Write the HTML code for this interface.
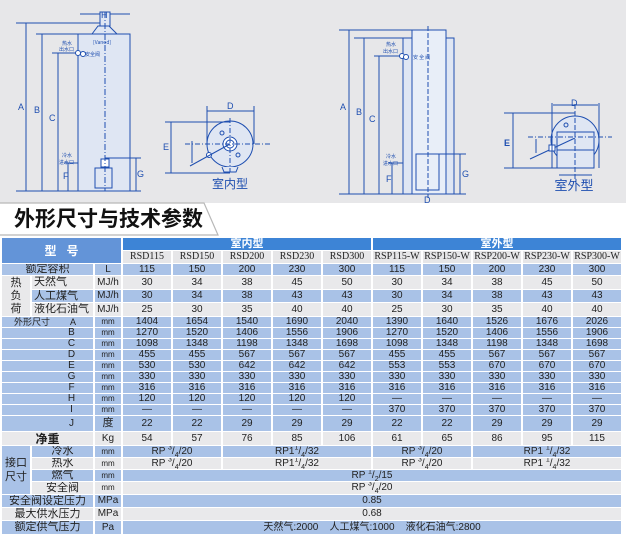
<!DOCTYPE html>
<html><head><meta charset="utf-8">
<style>
*{margin:0;padding:0;box-sizing:border-box}
body{width:626px;height:541px;background:#fff;position:relative;overflow:hidden;font-family:"Liberation Sans","Noto Sans CJK SC",sans-serif}
#top{position:absolute;left:0;top:0}
#title{position:absolute;left:14px;top:203px;font-size:21px;font-weight:bold;color:#111;letter-spacing:0px;line-height:31px;font-family:"Noto Sans CJK SC",sans-serif}
table{position:absolute;left:0;top:237px;border-collapse:separate;border-spacing:2px 1px;table-layout:fixed;font-size:10px;color:#222}
td{padding:0;text-align:center;line-height:1;white-space:nowrap;overflow:hidden}
.b{background:#a9c2e7}
.g{background:#e9e9eb}
.h{background:#6394d8;color:#fff;font-size:12px;font-weight:bold}
.hh{background:#3d84d6;color:#fff;font-weight:bold;font-size:11px}
.m{background:#e6e6e8;font-family:"Liberation Serif",serif;font-size:10px}
.cn{font-family:"Liberation Sans","Noto Sans CJK SC",sans-serif;font-size:11px}
sup,sub{font-size:7px;line-height:0}
</style></head><body>
<svg id="top" width="626" height="236" viewBox="0 0 626 236">
<rect x="0" y="0" width="626" height="203" fill="#e7e7e9"/>
<path d="M0 203 H204 L218 235 H0" fill="#fff" stroke="#b8b8b8" stroke-width="1.2"/>
<g stroke="#1f4fb0" stroke-width="1" fill="none">
<rect x="78" y="34" width="52" height="157" fill="#dfe6f3"/>
<path d="M92 34 L98 26 H109 L117 34 Z" fill="#dfe6f3"/>
<rect x="100" y="12" width="10" height="14" fill="#dfe6f3"/>
<line x1="80" y1="14" x2="100" y2="14"/><line x1="110" y1="14" x2="130" y2="14"/>
<line x1="16" y1="23" x2="100" y2="23"/>
<line x1="36" y1="34" x2="78" y2="34"/>
<line x1="52" y1="53" x2="78" y2="53"/>
<line x1="16" y1="191" x2="141" y2="191"/>
<line x1="26" y1="23" x2="26" y2="191"/>
<line x1="42" y1="34" x2="42" y2="191"/>
<line x1="58" y1="53" x2="58" y2="191"/>
<line x1="68" y1="163" x2="68" y2="191"/><line x1="64" y1="163" x2="78" y2="163"/>
<line x1="105" y1="158" x2="141" y2="158"/><line x1="136" y1="158" x2="136" y2="191"/>
<rect x="95" y="168" width="17" height="20"/>
<rect x="101" y="159" width="8" height="8" fill="#fff"/>
<line x1="105" y1="12" x2="105" y2="191" stroke-dasharray="6,2,1,2"/>
<circle cx="78" cy="53" r="2.5" fill="#fff"/><circle cx="83" cy="54" r="2.5" fill="#fff"/>
<circle cx="230" cy="144" r="23" fill="#dfe6f3"/>
<circle cx="230" cy="144" r="7" fill="#fff"/><circle cx="230" cy="144" r="4"/>
<circle cx="222" cy="133" r="2"/><circle cx="238" cy="155" r="2"/><circle cx="209" cy="155" r="2.5" fill="#fff"/>
<line x1="190" y1="166" x2="230" y2="144"/>
<path d="M222 167 L224 172 H236 L238 167" fill="#dfe6f3"/>
<line x1="185" y1="144" x2="272" y2="144" stroke-dasharray="5,2,1,2"/>
<line x1="230" y1="118" x2="230" y2="172" stroke-dasharray="5,2,1,2"/>
<line x1="207" y1="106" x2="207" y2="144"/><line x1="254" y1="106" x2="254" y2="144"/>
<line x1="207" y1="111" x2="254" y2="111"/>
<line x1="165" y1="122" x2="230" y2="122"/><line x1="165" y1="173" x2="230" y2="173"/>
<line x1="171" y1="122" x2="171" y2="173"/>
<line x1="192" y1="141" x2="192" y2="163"/>
<rect x="403" y="38" width="51" height="156" fill="#dfe6f3"/>
<rect x="412" y="30" width="34" height="164" fill="#e8eef8"/>
<rect x="416" y="154" width="23" height="36"/>
<line x1="339" y1="30" x2="446" y2="30"/>
<line x1="354" y1="38" x2="403" y2="38"/>
<line x1="374" y1="56" x2="403" y2="56"/>
<line x1="388" y1="163" x2="403" y2="163"/>
<line x1="416" y1="154" x2="466" y2="154"/>
<line x1="339" y1="194" x2="466" y2="194"/>
<line x1="349" y1="30" x2="349" y2="194"/>
<line x1="364" y1="38" x2="364" y2="194"/>
<line x1="379" y1="56" x2="379" y2="194"/>
<line x1="392" y1="163" x2="392" y2="194"/>
<line x1="460" y1="154" x2="460" y2="194"/>
<line x1="428" y1="26" x2="428" y2="198" stroke-dasharray="5,2"/>
<circle cx="402" cy="56" r="2.5" fill="#fff"/><circle cx="406" cy="57" r="2.5" fill="#fff"/>
<circle cx="575" cy="140" r="24" fill="#dfe6f3"/>
<rect x="557" y="132" width="37" height="36" fill="#dfe6f3"/>
<line x1="557" y1="150" x2="594" y2="150"/>
<circle cx="566" cy="125" r="2"/>
<line x1="530" y1="159" x2="575" y2="138"/>
<rect x="549" y="145" width="6" height="6" fill="#fff"/>
<line x1="528" y1="137" x2="612" y2="137" stroke-dasharray="5,2,1,2"/>
<line x1="575" y1="104" x2="575" y2="182" stroke-dasharray="5,2"/>
<line x1="552" y1="103" x2="552" y2="168"/><line x1="599" y1="103" x2="599" y2="168"/>
<line x1="553" y1="105" x2="598" y2="105"/>
<line x1="504" y1="113" x2="575" y2="113"/><line x1="504" y1="168" x2="594" y2="168"/>
<line x1="513" y1="113" x2="513" y2="168"/>
<line x1="559" y1="175" x2="592" y2="175"/>
<line x1="536" y1="139" x2="536" y2="153"/>
</g>
<g fill="#1f4fb0" font-size="9" font-family="Liberation Sans,sans-serif">
<text x="18" y="110">A</text><text x="34" y="113">B</text><text x="49" y="121">C</text>
<text x="63" y="179">F</text><text x="137" y="177">G</text><text x="101" y="18">H</text>
<text x="227" y="109">D</text><text x="163" y="150">E</text>
<text x="340" y="110">A</text><text x="356" y="115">B</text><text x="369" y="122">C</text>
<text x="386" y="182">F</text><text x="462" y="177">G</text><text x="424" y="203">D</text>
<text x="571" y="106">D</text><text x="504" y="146" font-weight="bold">E</text>
</g>
<g fill="#1f4fb0" font-size="5" font-family="Noto Sans CJK SC,sans-serif">
<text x="62" y="45">热水</text><text x="59" y="51">出水口</text><text x="85" y="56">安全阀</text>
<text x="62" y="157">冷水</text><text x="59" y="164">进水口</text>
<text x="386" y="46">热水</text><text x="383" y="53">出水口</text><text x="413" y="59">安 全 阀</text>
<text x="386" y="158">冷水</text><text x="383" y="165">进水口</text>
<text x="93" y="44" font-size="5">[Vanod]</text>
</g>
<text x="230" y="188" text-anchor="middle" fill="#1f4fb0" font-size="12" font-family="Noto Sans CJK SC,sans-serif">室内型</text>
<text x="574" y="190" text-anchor="middle" fill="#1f4fb0" font-size="13" font-family="Noto Sans CJK SC,sans-serif">室外型</text>
</svg>
<div id="title">外形尺寸与技术参数</div>
<table>
<colgroup><col style="width:28px"><col style="width:61px"><col style="width:26px"><col style="width:48px"><col style="width:48px"><col style="width:48px"><col style="width:48px"><col style="width:48px"><col style="width:48px"><col style="width:48px"><col style="width:48px"><col style="width:48px"><col style="width:48px"></colgroup>
<tr style="height:12px"><td class="h" colspan="3" rowspan="2">型 &nbsp; 号</td><td class="hh" colspan="5">室内型</td><td class="hh" colspan="5">室外型</td></tr>
<tr style="height:12px"><td class="m">RSD115</td><td class="m">RSD150</td><td class="m">RSD200</td><td class="m">RSD230</td><td class="m">RSD300</td><td class="m">RSP115-W</td><td class="m">RSP150-W</td><td class="m">RSP200-W</td><td class="m">RSP230-W</td><td class="m">RSP300-W</td></tr>
<tr style="height:11px" class="b"><td colspan="2" class="cn">额定容积</td><td>L</td><td>115</td><td>150</td><td>200</td><td>230</td><td>300</td><td>115</td><td>150</td><td>200</td><td>230</td><td>300</td></tr>
<tr style="height:13px" class="g"><td rowspan="3" class="g cn" style="font-size:11px;line-height:13px;white-space:normal">热<br>负<br>荷</td><td class="cn" style="text-align:left;padding-left:2px">天然气</td><td>MJ/h</td><td>30</td><td>34</td><td>38</td><td>45</td><td>50</td><td>30</td><td>34</td><td>38</td><td>45</td><td>50</td></tr>
<tr style="height:12px" class="b"><td class="cn" style="text-align:left;padding-left:2px">人工煤气</td><td>MJ/h</td><td>30</td><td>34</td><td>38</td><td>43</td><td>43</td><td>30</td><td>34</td><td>38</td><td>43</td><td>43</td></tr>
<tr style="height:13px" class="g"><td class="cn" style="text-align:left;padding-left:2px">液化石油气</td><td>MJ/h</td><td>25</td><td>30</td><td>35</td><td>40</td><td>40</td><td>25</td><td>30</td><td>35</td><td>40</td><td>40</td></tr>
<tr style="height:10px" class="b"><td colspan="2" style="text-align:left;padding-left:12px;font-size:9px">外形尺寸 &nbsp;&nbsp;&nbsp;&nbsp;&nbsp;&nbsp; A</td><td style="font-size:8px">mm</td><td>1404</td><td>1654</td><td>1540</td><td>1690</td><td>2040</td><td>1390</td><td>1640</td><td>1526</td><td>1676</td><td>2026</td></tr>
<tr style="height:10px" class="b"><td colspan="2" style="padding-left:48px">B</td><td style="font-size:8px">mm</td><td>1270</td><td>1520</td><td>1406</td><td>1556</td><td>1906</td><td>1270</td><td>1520</td><td>1406</td><td>1556</td><td>1906</td></tr>
<tr style="height:10px" class="b"><td colspan="2" style="padding-left:48px">C</td><td style="font-size:8px">mm</td><td>1098</td><td>1348</td><td>1198</td><td>1348</td><td>1698</td><td>1098</td><td>1348</td><td>1198</td><td>1348</td><td>1698</td></tr>
<tr style="height:10px" class="b"><td colspan="2" style="padding-left:48px">D</td><td style="font-size:8px">mm</td><td>455</td><td>455</td><td>567</td><td>567</td><td>567</td><td>455</td><td>455</td><td>567</td><td>567</td><td>567</td></tr>
<tr style="height:10px" class="b"><td colspan="2" style="padding-left:48px">E</td><td style="font-size:8px">mm</td><td>530</td><td>530</td><td>642</td><td>642</td><td>642</td><td>553</td><td>553</td><td>670</td><td>670</td><td>670</td></tr>
<tr style="height:10px" class="b"><td colspan="2" style="padding-left:48px">G</td><td style="font-size:8px">mm</td><td>330</td><td>330</td><td>330</td><td>330</td><td>330</td><td>330</td><td>330</td><td>330</td><td>330</td><td>330</td></tr>
<tr style="height:10px" class="b"><td colspan="2" style="padding-left:48px">F</td><td style="font-size:8px">mm</td><td>316</td><td>316</td><td>316</td><td>316</td><td>316</td><td>316</td><td>316</td><td>316</td><td>316</td><td>316</td></tr>
<tr style="height:10px" class="b"><td colspan="2" style="padding-left:48px">H</td><td style="font-size:8px">mm</td><td>120</td><td>120</td><td>120</td><td>120</td><td>120</td><td>—</td><td>—</td><td>—</td><td>—</td><td>—</td></tr>
<tr style="height:10px" class="b"><td colspan="2" style="padding-left:48px">I</td><td style="font-size:8px">mm</td><td>—</td><td>—</td><td>—</td><td>—</td><td>—</td><td>370</td><td>370</td><td>370</td><td>370</td><td>370</td></tr>
<tr style="height:15px" class="b"><td colspan="2" style="padding-left:48px">J</td><td class="cn">度</td><td>22</td><td>22</td><td>29</td><td>29</td><td>29</td><td>22</td><td>22</td><td>29</td><td>29</td><td>29</td></tr>
<tr style="height:13px" class="g"><td colspan="2" class="cn" style="font-size:12px;font-weight:bold">净重</td><td>Kg</td><td>54</td><td>57</td><td>76</td><td>85</td><td>106</td><td>61</td><td>65</td><td>86</td><td>95</td><td>115</td></tr>
<tr style="height:11px" class="b"><td rowspan="4" class="b cn" style="font-size:11px;line-height:14px;white-space:normal">接口<br>尺寸</td><td class="cn">冷水</td><td style="font-size:8px">mm</td><td colspan="2">RP <sup>3</sup>/<sub>4</sub>/20</td><td colspan="3">RP1<sup>1</sup>/<sub>4</sub>/32</td><td colspan="2">RP <sup>3</sup>/<sub>4</sub>/20</td><td colspan="3">RP1 <sup>1</sup>/<sub>4</sub>/32</td></tr>
<tr style="height:11px" class="g"><td class="cn">热水</td><td style="font-size:8px">mm</td><td colspan="2">RP <sup>3</sup>/<sub>4</sub>/20</td><td colspan="3">RP1<sup>1</sup>/<sub>4</sub>/32</td><td colspan="2">RP <sup>3</sup>/<sub>4</sub>/20</td><td colspan="3">RP1 <sup>1</sup>/<sub>4</sub>/32</td></tr>
<tr style="height:11px" class="b"><td class="cn">燃气</td><td style="font-size:8px">mm</td><td colspan="10">RP <sup>1</sup>/<sub>2</sub>/15</td></tr>
<tr style="height:12px" class="g"><td class="cn">安全阀</td><td style="font-size:8px">mm</td><td colspan="10">RP <sup>3</sup>/<sub>4</sub>/20</td></tr>
<tr style="height:12px" class="b"><td colspan="2" class="cn">安全阀设定压力</td><td>MPa</td><td colspan="10">0.85</td></tr>
<tr style="height:12px" class="g"><td colspan="2" class="cn">最大供水压力</td><td>MPa</td><td colspan="10">0.68</td></tr>
<tr style="height:13px" class="b"><td colspan="2" class="cn">额定供气压力</td><td>Pa</td><td colspan="10" class="cn" style="font-size:10px">天然气:2000 &nbsp;&nbsp; 人工煤气:1000 &nbsp;&nbsp; 液化石油气:2800</td></tr>
</table>
</body></html>
